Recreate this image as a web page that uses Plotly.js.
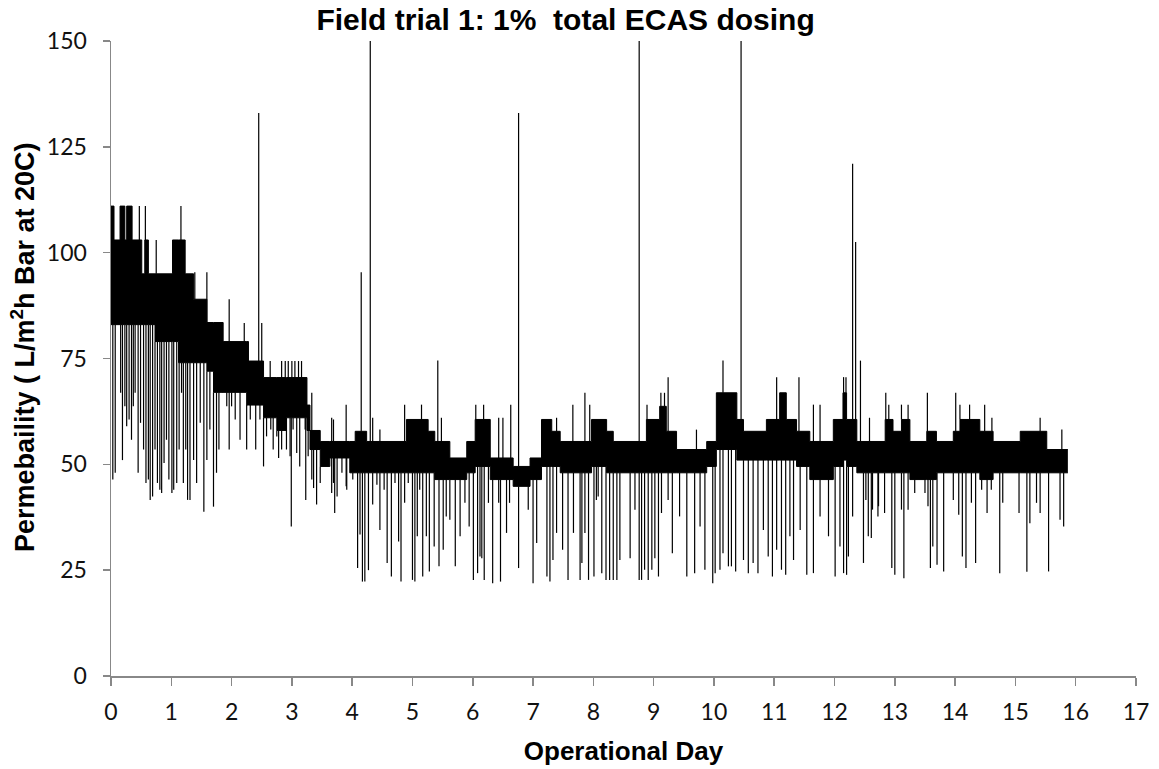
<!DOCTYPE html>
<html>
<head>
<meta charset="utf-8">
<script src="https://cdn.plot.ly/plotly-3.0.1.min.js"></script>
<style>html,body{margin:0;padding:0;background:#fff;}#chart{width:1159px;height:769px;}</style>
</head>
<body>
<div id="chart"></div>
<script>
// Dense band envelope (step-wise): day, upper value, lower value
const bandDay = [0.00,0.05,0.15,0.23,0.26,0.35,0.51,0.56,0.62,0.73,1.02,1.12,1.23,1.37,1.59,1.70,1.86,2.25,2.28,2.53,2.75,2.91,3.25,3.30,3.47,3.63,3.96,4.05,4.24,4.90,5.26,5.37,5.62,5.90,6.04,6.29,6.67,6.95,7.14,7.31,7.45,7.97,8.22,8.33,8.88,9.10,9.21,9.38,9.88,10.04,10.38,10.49,10.87,11.09,11.20,11.37,11.59,11.98,12.14,12.20,12.37,12.84,12.97,13.11,13.25,13.53,13.69,13.97,14.08,14.41,14.63,15.08,15.52,15.87];
const bandHigh = [111,103,111,103,111,103,95,103,95,95,103,103,95,89,83.5,83.5,79,79,74.4,70.5,70.5,70.5,64,58,55.4,55.4,55.4,57.8,55.4,60.6,57.8,55.4,51.5,55.4,60.6,51.5,49.5,51.5,60.6,57.8,55.4,60.6,57.8,55.4,60.6,63.7,57.8,53.5,55.4,66.9,60.6,57.8,60.6,66.9,60.6,57.8,55.4,60.6,66.9,60.6,55.4,60.6,57.8,60.6,55.4,57.8,55.4,57.8,60.6,57.8,55.4,57.8,53.5,53.5];
const bandLow = [83,83,83,83,83,83,83,83,83,79,79,74,74,74,72,67,67,64,64,61,58,61,58,53.5,49.5,51.5,48,48,48,48,48,46.4,46.4,48,49.5,46.4,44.8,46.4,49.5,49.5,48,49.5,48,48,48,48,48,48,49.5,53.5,51,51,51,51,51,49.5,46.4,49.5,51,49.5,48,48,48,48,46.4,46.4,48,48,48,46.4,48,48,48,48];

// Upward spikes: day, tip value
const upDay = [0.47,0.57,0.75,1.16,1.39,1.59,1.96,2.21,2.45,2.50,2.64,2.83,2.89,2.94,3.00,3.05,3.11,3.16,3.33,3.66,3.69,3.90,4.15,4.30,4.34,4.46,4.87,5.15,5.42,5.48,6.05,6.18,6.43,6.50,6.63,6.76,7.39,7.66,7.86,7.94,8.76,8.89,9.12,9.18,9.24,9.71,10.15,10.45,11.04,11.41,11.65,11.76,12.15,12.19,12.30,12.35,12.43,12.58,12.85,12.90,13.11,13.22,13.54,14.01,14.08,14.24,14.49,14.61,15.41,15.77];
const upVal = [111,111,103,111,95.4,95.4,89,83.4,133,83.4,74.4,74.4,74.4,74.4,74.4,74.4,74.4,74.4,66.9,61,60.6,64.1,95.4,150,61,58.2,64.1,64.1,74.5,61,64.1,64.1,61,61,64.1,133,61,64.1,66.9,64.1,150,64.1,66.9,66.9,70.6,58.2,74.5,150,70.6,70.6,64.1,64.1,70.6,70.6,121,102.5,74.5,61,66.9,64.1,64.1,64.1,66.9,66.9,64.1,64.1,64.1,61,61,58.2];

// Downward spikes: day, tip value
const downDay = [0.03,0.07,0.16,0.19,0.23,0.26,0.30,0.34,0.37,0.40,0.45,0.49,0.54,0.58,0.62,0.65,0.69,0.73,0.77,0.81,0.84,0.88,0.92,0.96,1.01,1.04,1.09,1.13,1.17,1.20,1.24,1.27,1.31,1.37,1.42,1.48,1.54,1.59,1.64,1.70,1.75,1.79,1.86,1.92,1.96,2.00,2.06,2.14,2.25,2.31,2.40,2.47,2.53,2.58,2.65,2.69,2.75,2.78,2.83,2.91,2.97,2.99,3.02,3.08,3.13,3.22,3.23,3.27,3.33,3.36,3.41,3.47,3.66,3.69,3.71,3.75,3.83,3.90,3.91,4.01,4.09,4.13,4.17,4.21,4.27,4.34,4.41,4.46,4.53,4.58,4.65,4.71,4.77,4.81,4.87,4.93,5.00,5.04,5.08,5.12,5.17,5.23,5.28,5.36,5.44,5.51,5.56,5.62,5.71,5.79,5.87,5.94,6.01,6.08,6.12,6.15,6.19,6.26,6.33,6.43,6.46,6.56,6.61,6.76,6.92,7.00,7.06,7.23,7.28,7.33,7.39,7.49,7.58,7.67,7.78,7.81,7.86,7.92,8.01,8.05,8.08,8.14,8.21,8.27,8.33,8.39,8.44,8.61,8.69,8.76,8.80,8.85,8.91,8.97,9.02,9.08,9.13,9.24,9.31,9.43,9.55,9.68,9.77,9.85,9.98,10.02,10.10,10.15,10.24,10.29,10.36,10.49,10.57,10.65,10.73,10.82,10.90,10.97,11.04,11.12,11.19,11.26,11.32,11.43,11.54,11.65,11.76,11.90,12.01,12.09,12.15,12.20,12.23,12.30,12.48,12.52,12.56,12.61,12.63,12.72,12.73,12.83,12.95,13.00,13.11,13.15,13.22,13.33,13.50,13.55,13.59,13.63,13.70,13.81,13.97,14.06,14.12,14.18,14.27,14.34,14.44,14.53,14.60,14.74,14.79,15.06,15.19,15.24,15.35,15.41,15.55,15.74,15.80];
const downVal = [46.4,48,66.9,51,63.7,59,60.6,55.8,63.7,66.9,48,59.8,53.5,45.6,46.4,41.6,42.4,53.5,45.6,44,43.2,50.3,55.8,46.4,43.2,44,45.6,53.5,66.9,45.6,53.5,41.6,41.6,51,45.6,59.8,38.8,51,58.2,40,48,53.5,66.9,63.7,53.5,63.7,60.6,55.8,53.5,60.6,53.5,60.6,49.5,56.6,58.2,53.5,56.6,51.5,53.5,53.5,51.9,35.3,58.2,52.7,49.5,58.2,41.6,51.9,46.4,44.4,40.5,45.6,43.2,45.6,38.5,42.4,48,44.8,44,46.4,25.5,33.4,22.3,22.3,25,40.5,45.2,34.5,44,26.7,23.5,45.6,31.8,22.3,40.9,45.6,22.7,22.3,33,44,23.5,33,24.7,30.6,25.9,29.8,37.7,36.9,25.9,33,40.9,35.3,22.7,24.3,28.2,27.8,22.7,40.9,21.9,40.9,22.3,33.8,40.9,25.5,39.3,21.9,31.4,23.5,22.3,27.4,33.8,29.8,22.7,33.8,22.7,26.7,33.8,22.7,23.5,41.6,42.4,24.3,22.7,22.7,22.7,22.7,27.4,27.8,39.3,22.7,22.7,25.1,22.7,25.1,27.8,23.5,38.5,41.6,29,37.7,23.5,24.3,35.3,25.1,21.9,24.3,25.1,29,25.9,25.9,24.7,27.4,24.3,26.7,24.3,34.5,28.2,23.5,29.8,25.1,23.9,33,27.4,34.5,23.9,24.3,37.7,33,23.5,30.6,24.3,23.9,28.2,37.7,26.7,41.6,33,32.6,39.3,37.7,40.1,38.5,25.5,23.9,39.3,23.1,39.3,43.2,43.2,40.1,25.5,30.6,26.3,24.7,41.6,38.1,28.2,25.5,40.9,26.7,44,38.5,44,24.3,40.9,38.5,24.6,36.1,40.9,38.5,24.7,36.9,35.3];

const xTicks = [0,1,2,3,4,5,6,7,8,9,10,11,12,13,14,15,16,17];
const yTicks = [0,25,50,75,100,125,150];

function bandIndex(d){
  let k = 0;
  for (let i = 0; i < bandDay.length; i++) { if (bandDay[i] <= d) k = i; }
  return k;
}
function spikeTrace(days, vals, baseArr){
  const xs = [], ys = [];
  for (let i = 0; i < days.length; i++) {
    const k = bandIndex(days[i]);
    xs.push(days[i], days[i], null);
    ys.push(baseArr[k], vals[i], null);
  }
  return {x: xs, y: ys, type: 'scatter', mode: 'lines', line: {color: '#000', width: 1.2}, hoverinfo: 'skip', showlegend: false};
}

const traces = [
  {x: bandDay, y: bandLow, type: 'scatter', mode: 'lines', line: {color: '#000', width: 1, shape: 'hv'}, showlegend: false},
  {x: bandDay, y: bandHigh, type: 'scatter', mode: 'lines', fill: 'tonexty', fillcolor: '#000', line: {color: '#000', width: 1, shape: 'hv'}, showlegend: false},
  spikeTrace(upDay, upVal, bandHigh),
  spikeTrace(downDay, downVal, bandLow)
];

const tickFont = {family: 'Lato, "Open Sans", sans-serif', size: 23, color: '#111'};
const titleFamily = '"Liberation Sans", Arial, sans-serif';
const layout = {
  width: 1159, height: 769,
  margin: {l: 111, r: 23, t: 41, b: 93},
  paper_bgcolor: '#fff', plot_bgcolor: '#fff',
  title: {text: 'Field trial 1: 1%  total ECAS dosing', font: {family: titleFamily, size: 30, color: '#000', weight: 'bold'}, xref: 'container', x: 0.488, xanchor: 'center', yref: 'container', y: 0.988, yanchor: 'top'},
  xaxis: {
    range: [0, 17], tickvals: xTicks, ticktext: xTicks.map(String),
    showgrid: false, zeroline: false, showline: true, linecolor: '#888', linewidth: 1.5,
    ticks: 'outside', ticklen: 8, tickcolor: '#888', tickwidth: 1.5,
    tickfont: tickFont, ticklabelstandoff: 7,
    title: {text: 'Operational Day', font: {family: titleFamily, size: 26, color: '#000', weight: 'bold'}, standoff: 17},
    automargin: false
  },
  yaxis: {
    range: [0, 150], tickvals: yTicks, ticktext: yTicks.map(String),
    showgrid: false, zeroline: false, showline: true, linecolor: '#888', linewidth: 1.5,
    ticks: 'outside', ticklen: 7, tickcolor: '#888', tickwidth: 1.5,
    tickfont: tickFont, ticklabelstandoff: 11,
    automargin: false
  },
  annotations: [{
    text: 'Permebaility ( L/m<sup>2</sup>h Bar at 20C)',
    font: {family: titleFamily, size: 27, color: '#000', weight: 'bold'},
    textangle: -90, showarrow: false,
    xref: 'paper', x: 0, xanchor: 'center', xshift: -88,
    yref: 'paper', y: 0.518, yanchor: 'middle'
  }],
  showlegend: false
};

Plotly.newPlot('chart', traces, layout, {displayModeBar: false, staticPlot: true});
</script>
</body>
</html>
